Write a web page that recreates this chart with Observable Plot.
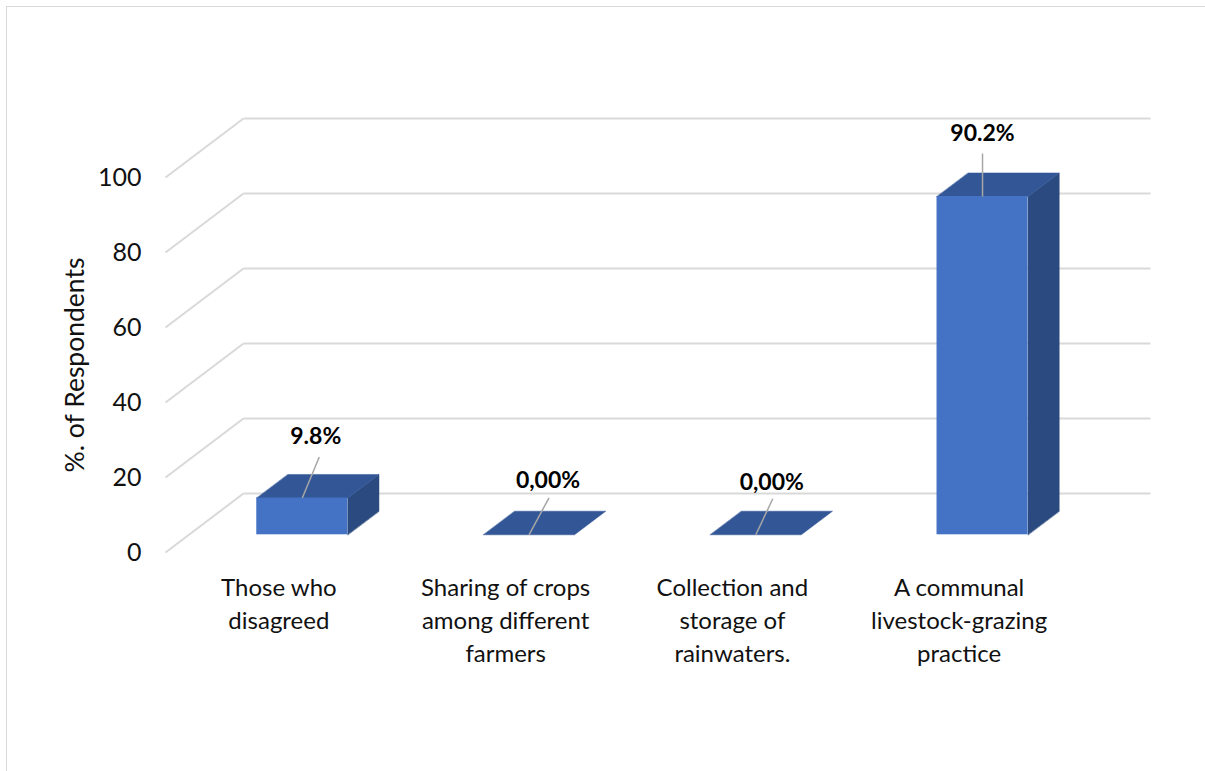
<!DOCTYPE html>
<html>
<head>
<meta charset="utf-8">
<script src="https://cdn.jsdelivr.net/npm/d3@7"></script>
<script src="https://cdn.jsdelivr.net/npm/@observablehq/plot@0.6"></script>
<style>
html, body { margin: 0; padding: 0; background: #fff; overflow: hidden; }
#frame { position: absolute; left: 6px; top: 6px; width: 1400px; height: 1000px; border-left: 1.5px solid #d9d9d9; border-top: 1.5px solid #d9d9d9; box-sizing: border-box; }
#chart { position: absolute; left: 0; top: 0; }
</style>
</head>
<body>
<div id="frame"></div>
<div id="chart"></div>
<script>
// ---- data ----
const categories = [
  "Those who\ndisagreed",
  "Sharing of crops\namong different\nfarmers",
  "Collection and\nstorage of\nrainwaters.",
  "A communal\nlivestock-grazing\npractice"
];
const values = [9.8, 0, 0, 90.2];
const valueLabels = ["9.8%", "0,00%", "0,00%", "90.2%"];
const yTicks = [0, 20, 40, 60, 80, 100];
const yTitle = "%. of Respondents";

// ---- layout & style ----
const W = 1205, H = 771;
const mL = 165, mR = 133, mT = 177, mB = 219;
const pxX = (W - mL - mR) / categories.length;   // px per x unit
const pxY = (H - mT - mB) / 100;                 // px per y unit
const depthPx = [78, -59];                       // full floor depth as screen vector
const KX = depthPx[0] / pxX, KY = -depthPx[1] / pxY;
const D0 = 0.3, D1 = 0.7;                        // bar front/back depth
const BW = 91 / pxX;                             // bar width in x units
const FONT = "Lato, 'Open Sans', 'Liberation Sans', sans-serif";
const gridColor = "#d9d9d9";
const frontColor = "#4472c4", topColor = "#335796", sideColor = "#2b4a7f";
const labelOffsets = [[13.5, -61], [19, -54], [16, -52], [0, -63]];
const leaderOffsets = [[17, -41], [20, -37], [17, -36], [0, -43]];

const proj = (x, y, d) => ({x: x + d * KX, y: y + d * KY});
const off = (p, o) => ({x: p.x + o[0] / pxX, y: p.y - o[1] / pxY});

// gridlines: back wall + left wall diagonals
const grid = [];
yTicks.forEach(t => {
  grid.push({...proj(-0.5, t, 1), k: "b" + t}, {...proj(categories.length - 0.5, t, 1), k: "b" + t});
  grid.push({...proj(-0.5, t, 0), k: "w" + t}, {...proj(-0.5, t, 1), k: "w" + t});
});

// bar faces
const sides = [], tops = [], fronts = [];
values.forEach((v, i) => {
  const x0 = i - BW / 2, x1 = i + BW / 2;
  if (v > 0) {
    [proj(x1, 0, D0), proj(x1, v, D0), proj(x1, v, D1), proj(x1, 0, D1)].forEach(p => sides.push({...p, k: i}));
    const a = proj(x0, 0, D0), b = proj(x1, v, D0);
    fronts.push({x1: a.x, x2: b.x, y1: a.y, y2: b.y});
  }
  [proj(x0, v, D0), proj(x1, v, D0), proj(x1, v, D1), proj(x0, v, D1)].forEach(p => tops.push({...p, k: i}));
});

// data labels & leader lines
const anchors = values.map((v, i) => proj(i, v, D0));
const labels = anchors.map((a, i) => ({...off(a, labelOffsets[i]), text: valueLabels[i]}));
const leaders = anchors.map((a, i) => {
  const s = off(a, leaderOffsets[i]);
  return {x1: s.x, y1: s.y, x2: a.x, y2: a.y};
});

const chart = Plot.plot({
  width: W, height: H,
  marginLeft: mL, marginRight: mR, marginTop: mT, marginBottom: mB,
  style: {fontFamily: FONT, color: "#000", background: "transparent", overflow: "visible"},
  x: {domain: [-0.5, categories.length - 0.5], axis: null},
  y: {domain: [0, 100], axis: null},
  marks: [
    Plot.line(grid, {x: "x", y: "y", z: "k", stroke: gridColor, strokeWidth: 2, strokeLinecap: "butt"}),
    Plot.line(sides, {x: "x", y: "y", z: "k", fill: sideColor, stroke: sideColor, strokeWidth: 0.5, curve: "linear-closed"}),
    Plot.line(tops, {x: "x", y: "y", z: "k", fill: topColor, stroke: topColor, strokeWidth: 0.5, curve: "linear-closed"}),
    Plot.rect(fronts, {x1: "x1", x2: "x2", y1: "y1", y2: "y2", fill: frontColor}),
    Plot.link(leaders, {x1: "x1", y1: "y1", x2: "x2", y2: "y2", stroke: "#a6a6a6", strokeWidth: 1.5}),
    Plot.text(labels, {x: "x", y: "y", text: "text", fontWeight: "bold", fontSize: 23, fill: "#000"}),
    Plot.axisY(yTicks, {anchor: "left", tickSize: 0, tickPadding: 24, label: null, fontSize: 25, fill: "#111"}),
    Plot.text([yTitle], {frameAnchor: "left", textAnchor: "middle", rotate: -90, dx: -90, fontSize: 26.5, fill: "#111"}),
    Plot.text(categories, {x: (d, i) => i, y: 0, text: d => d, lineAnchor: "top", dy: 20, fontSize: 24, lineHeight: 1.375, fill: "#111"})
  ]
});
document.getElementById("chart").appendChild(chart);
</script>
</body>
</html>
